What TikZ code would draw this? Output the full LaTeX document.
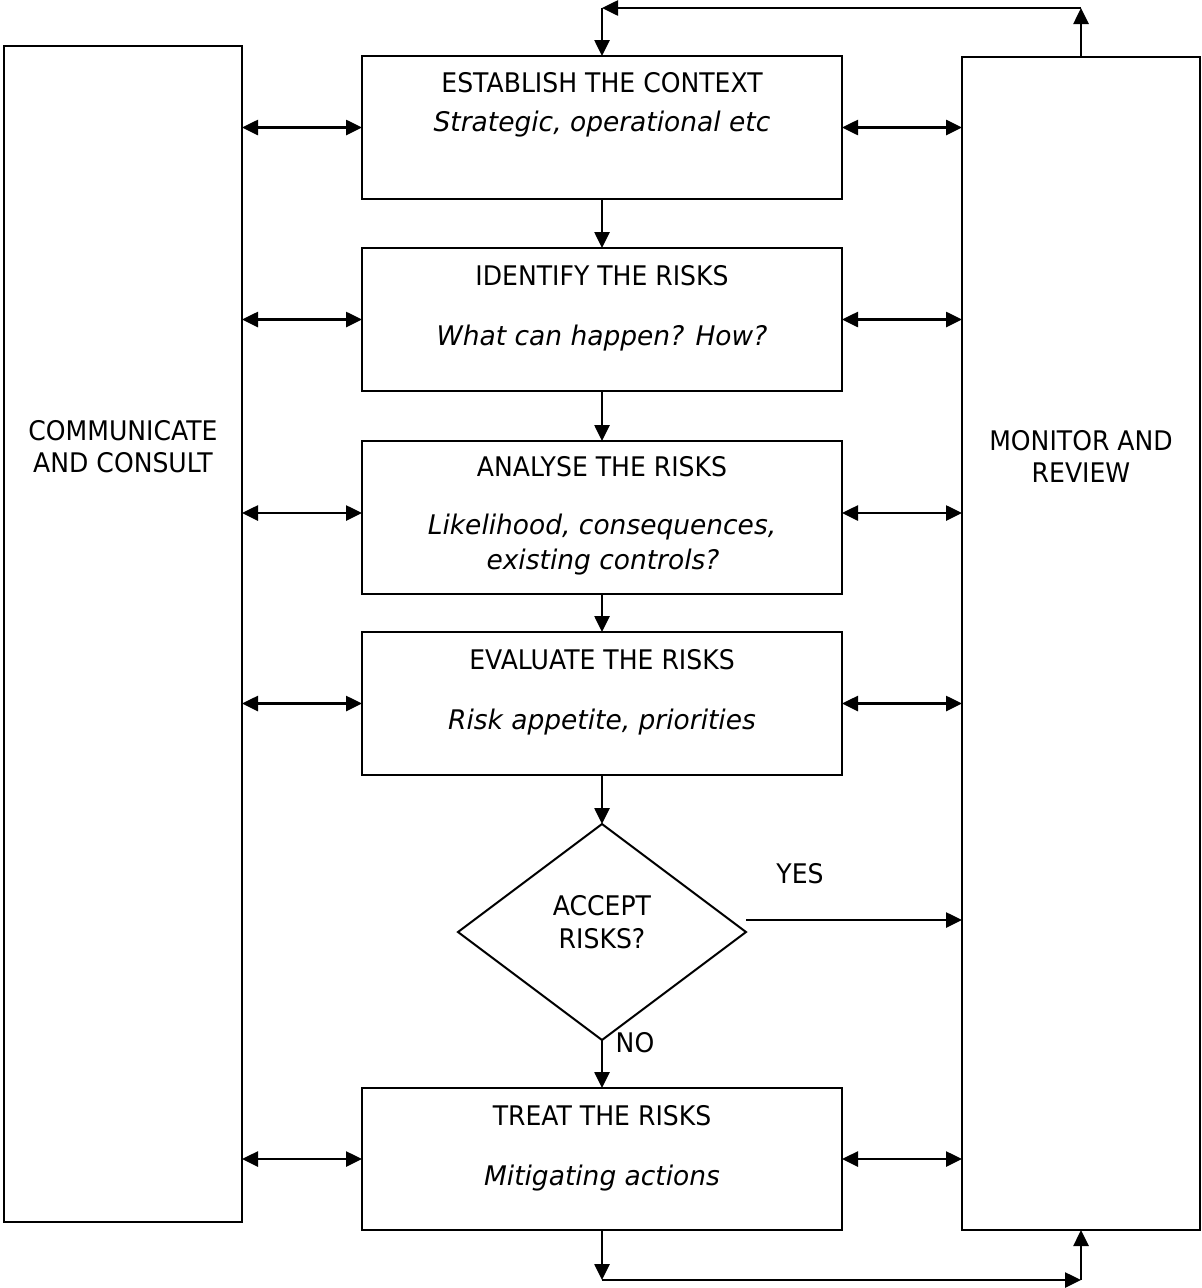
\documentclass[tikz,border=0pt]{standalone}
\usepackage{fontspec}
\setmainfont{DejaVu Sans}[FakeStretch=0.93]
\newfontfamily\itfam{DejaVu Sans}[FakeStretch=0.98]
\usetikzlibrary{arrows.meta,shapes.geometric}
\begin{document}
\begin{tikzpicture}[x=1pt,y=-1pt,
  box/.style={draw,line width=2.6pt,inner sep=0pt,outer sep=0pt},
  txt/.style={anchor=base,inner sep=0pt,font=\fontsize{27}{31}\selectfont},
  itxt/.style={txt,font=\fontsize{27}{31}\selectfont\itfam\itshape},
  arr/.style={line width=2.6pt,-{Triangle[length=16pt,width=15pt]}},
  darr/.style={line width=2.6pt,{Triangle[length=16pt,width=15pt]}-{Triangle[length=16pt,width=15pt]}}
]
\useasboundingbox (0,0) rectangle (1202,1288);
% side boxes
\node[box,minimum width=238pt,minimum height=1176pt] (cl) at (123,634) {};
\node[box,minimum width=238pt,minimum height=1173pt] (mr) at (1081,643.5) {};
\node[txt] (cl1) at (123,440) {COMMUNICATE};
\node[txt] (cl2) at (123,472) {AND CONSULT};
\node[txt] (mr1) at (1081,450) {MONITOR AND};
\node[txt] (mr2) at (1081,482) {REVIEW};
% centre boxes
\node[box,minimum width=480pt,minimum height=143pt] (b1) at (602,127.5) {};
\node[box,minimum width=480pt,minimum height=143pt] (b2) at (602,319.5) {};
\node[box,minimum width=480pt,minimum height=153pt] (b3) at (602,517.5) {};
\node[box,minimum width=480pt,minimum height=143pt] (b4) at (602,703.5) {};
\node[box,minimum width=480pt,minimum height=142pt] (b5) at (602,1159) {};
\node[draw,diamond,line width=2pt,minimum width=288pt,minimum height=216pt,inner sep=0pt,outer sep=0pt] (d) at (602,932) {};
% texts
\node[txt] (t1) at (602,92) {ESTABLISH THE CONTEXT};
\node[itxt] (s1) at (602,131) {Strategic, operational etc};
\node[txt] (t2) at (602,285) {IDENTIFY THE RISKS};
\node[itxt] (s2) at (602,345) {What can happen? How?};
\node[txt] (t3) at (602,476) {ANALYSE THE RISKS};
\node[itxt] (s3) at (602,534) {Likelihood, consequences,};
\node[itxt] (s3b) at (603,569) {existing controls?};
\node[txt] (t4) at (602,669) {EVALUATE THE RISKS};
\node[itxt] (s4) at (602,729) {Risk appetite, priorities};
\node[txt] (d1) at (602,915) {ACCEPT};
\node[txt] (d2) at (602,948) {RISKS?};
\node[txt] (t5) at (602,1125) {TREAT THE RISKS};
\node[itxt] (s5) at (602,1185) {Mitigating actions};
\node[txt] (yes) at (800,883) {YES};
\node[txt] (no) at (635,1052) {NO};
% vertical flow
\draw[arr] (b1.south) -- (b2.north);
\draw[arr] (b2.south) -- (b3.north);
\draw[arr] (b3.south) -- (b4.north);
\draw[arr] (b4.south) -- (d.north);
\draw[arr] (d.south) -- (b5.north);
% yes
\coordinate (ys) at (746,920);
\draw[arr] (ys) -- (ys -| mr.west);
% side arrows
\foreach \b in {b1,b2,b4,b5}{
  \draw[darr] (cl.east |- \b.west) -- (\b.west);
  \draw[darr] (\b.east) -- (mr.west |- \b.east);
}
\coordinate (a3) at (602,513);
\draw[darr] (cl.east |- a3) -- (b3.west |- a3);
\draw[darr] (b3.east |- a3) -- (mr.west |- a3);
% top loop
\coordinate (tr) at (1081,8);
\coordinate (tl) at (602,8);
\draw[arr] (mr.north) -- (tr);
\draw[arr] (tr) -- (tl);
\draw[arr] (tl) -- (b1.north);
% bottom loop
\coordinate (bl) at (602,1280);
\coordinate (br) at (1081,1280);
\draw[arr] (b5.south) -- (bl);
\draw[arr] (bl) -- (br);
\draw[arr] (br) -- (mr.south);
\end{tikzpicture}
\end{document}
